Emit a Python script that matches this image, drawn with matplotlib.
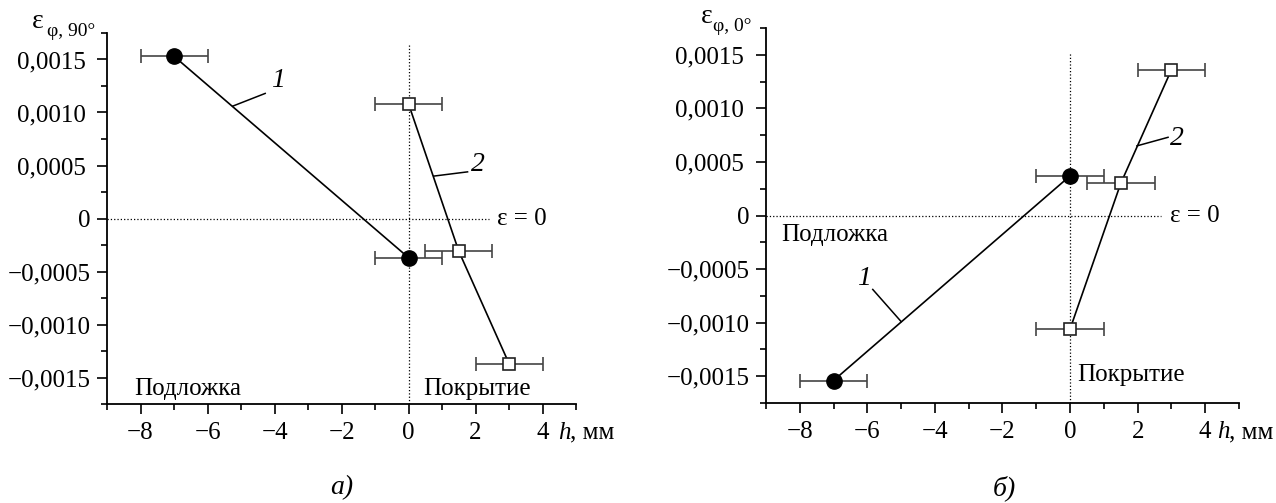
import matplotlib
matplotlib.use("Agg")
import matplotlib.pyplot as plt
from matplotlib.ticker import MultipleLocator, FuncFormatter
import matplotlib.transforms as mtransforms

plt.rcParams["font.family"] = ["Liberation Serif", "DejaVu Serif"]
plt.rcParams["font.size"] = 18

# h, mm and strain values; series 1 = substrate side, series 2 = coating side
h1 = [-7, 0]
h2 = [0, 1.5, 3]
h_err = 1.0

eps90_1 = [0.00153, -0.00037]
eps90_2 = [0.00108, -0.00031, -0.00137]

eps0_1 = [-0.00154, 0.00037]
eps0_2 = [-0.00106, 0.00030, 0.00136]

y_ticks = [-0.0015, -0.0010, -0.0005, 0, 0.0005, 0.0010, 0.0015]
x_ticks = [-8, -6, -4, -2, 0, 2, 4]


def fmt_eps(v, pos):
    if abs(v) < 1e-9:
        return "0"
    s = f"{abs(v):.4f}".replace(".", ",")
    if v < 0:
        return "\u2212" + s
    return s + "\u2009"


def fmt_h(v, pos):
    return ("\u2212" if v < 0 else "") + f"{abs(v):.0f}"


def draw_panel(ax, e1, e2, sub, cfg):
    ax.set_xlim(-9, 5)
    ax.set_ylim(-0.00175, 0.00175)
    for s in ("top", "right"):
        ax.spines[s].set_visible(False)
    for s in ("left", "bottom"):
        ax.spines[s].set_linewidth(1.3)
    ax.set_xticks(x_ticks)
    ax.set_yticks(y_ticks)
    ax.xaxis.set_minor_locator(MultipleLocator(1))
    ax.yaxis.set_minor_locator(MultipleLocator(0.00025))
    ax.yaxis.set_major_formatter(FuncFormatter(fmt_eps))
    ax.xaxis.set_major_formatter(FuncFormatter(fmt_h))
    ax.tick_params(which="major", direction="out", length=7, width=1.2, labelsize=18)
    ax.tick_params(which="minor", direction="out", length=4, width=1.2)
    ax.tick_params(axis="x", pad=6)
    ax.tick_params(axis="y", pad=5)

    # zero lines
    ax.plot([-9, cfg["hline_end"]], [0, 0], ls=":", color="black", lw=0.9)
    ax.plot([0, 0], [-0.00175, cfg["vline_top"]], ls=":", color="black", lw=0.9)
    ax.text(cfg["hline_end"] + 0.25, 0, "\u03b5 = 0", va="center", ha="left", fontsize=18)

    ebar = dict(xerr=h_err, ecolor="#444444", elinewidth=1.2, capsize=4.7,
                capthick=1.2, ls="none")
    ax.errorbar(h2, e2, **ebar)
    ax.errorbar(h1, e1, **ebar)
    ax.plot(h1, e1, color="black", lw=1.2, marker="o", ms=11,
            mfc="black", mec="black", zorder=4)
    ax.plot(h2, e2, color="black", lw=1.2, marker="s", ms=9,
            mfc="white", mec="#222222", mew=1.2, zorder=4)

    # curve numbers with leader strokes
    for num, (tx, ty), (x0, y0), (x1, y1) in cfg["labels"]:
        ax.plot([x0, x1], [y0, y1], color="black", lw=1.1)
        ax.text(tx, ty, num, style="italic", fontsize=20, ha="center", va="center")

    for txt, (tx, ty) in cfg["regions"]:
        ax.text(tx, ty, txt, fontsize=18, ha="left", va="center")

    # axis captions
    trans = mtransforms.blended_transform_factory(ax.transData, ax.transAxes)
    hx = cfg["h_x"]
    ax.text(hx, -0.078, "h", style="italic", fontsize=18, transform=trans,
            ha="left", va="center")
    ax.text(hx + 0.36, -0.078, ", мм", fontsize=18, transform=trans,
            ha="left", va="center")
    ex, ey, sx, sy = cfg["eps_pos"]
    ax.text(ex, ey, "\u03b5", fontsize=20, transform=ax.transAxes,
            ha="left", va="center")
    ax.text(sx, sy, sub, fontsize=14, transform=ax.transAxes,
            ha="left", va="center")
    ax.text(cfg["tag_x"], -0.226, cfg["tag"], style="italic",
            fontsize=20, transform=ax.transAxes, ha="center", va="center")


fig = plt.figure(figsize=(12.76, 5.03), dpi=100)
ax_a = fig.add_axes([0.0839, 0.1968, 0.3676, 0.7376])
ax_b = fig.add_axes([0.6003, 0.1988, 0.3707, 0.7455])

draw_panel(ax_a, eps90_1, eps90_2, "\u03c6, 90°", dict(
    hline_end=2.4, vline_top=0.00165, tag="а)", tag_x=0.5, h_x=4.45,
    eps_pos=(-0.16, 1.03, -0.128, 1.005),
    labels=[("1", (-3.9, 0.00130), (-4.28, 0.00118), (-5.25, 0.00106)),
            ("2", (2.06, 0.00051), (1.76, 0.00044), (0.75, 0.00040))],
    regions=[("Подложка", (-8.2, -0.00161)), ("Покрытие", (0.45, -0.00161))],
))
draw_panel(ax_b, eps0_1, eps0_2, "\u03c6, 0°", dict(
    hline_end=2.7, vline_top=0.00153, tag="б)", tag_x=0.505, h_x=4.35,
    eps_pos=(-0.137, 1.03, -0.112, 1.003),
    labels=[("1", (-6.1, -0.00059), (-5.84, -0.00069), (-5.0, -0.00099)),
            ("2", (3.15, 0.00072), (2.9, 0.00073), (1.98, 0.00065))],
    regions=[("Подложка", (-8.55, -0.000185)), ("Покрытие", (0.2, -0.00149))],
))

fig.savefig("out.png", dpi=100)
